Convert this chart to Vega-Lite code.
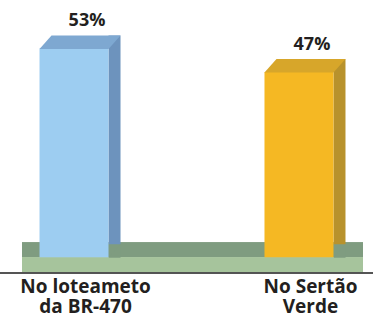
{
  "$schema": "https://vega.github.io/schema/vega-lite/v6.json",
  "width": 373,
  "height": 260,
  "autosize": {"type": "none"},
  "padding": {"left": 0, "right": 0, "top": 13, "bottom": 43},
  "background": "white",
  "config": {"view": {"stroke": null}},
  "data": {
    "values": [
      {"local": "No loteameto da BR-470", "pct": 53, "label": "53%"},
      {"local": "No Sertão Verde", "pct": 47, "label": "47%"}
    ]
  },
  "layer": [
    {
      "mark": {"type": "rect", "color": "#7f9c80", "xOffset": -52, "x2Offset": 64},
      "encoding": {
        "x": {"datum": "No loteameto da BR-470", "type": "nominal"},
        "x2": {"datum": "No Sertão Verde"},
        "y": {"datum": 3.8, "type": "quantitative", "scale": {"domain": [-4, 62], "nice": false, "zero": false}, "axis": null},
        "y2": {"datum": 0}
      }
    },
    {
      "mark": {"type": "rect", "color": "#a6c49c", "xOffset": -52, "x2Offset": 64},
      "encoding": {
        "x": {"datum": "No loteameto da BR-470", "type": "nominal"},
        "x2": {"datum": "No Sertão Verde"},
        "y": {"datum": 0, "type": "quantitative"},
        "y2": {"datum": -3.8}
      }
    },
    {
      "mark": {"type": "rule", "color": "#4a4a4a", "strokeWidth": 1.5},
      "encoding": {
        "y": {"datum": -4, "type": "quantitative"}
      }
    },
    {
      "mark": {"type": "bar", "width": 12, "xOffset": 40.5, "yOffset": -13},
      "encoding": {
        "x": {
          "field": "local", "type": "nominal", "sort": null,
          "scale": {"type": "point", "padding": 0.329, "domain": ["No loteameto da BR-470", "No Sertão Verde"]},
          "axis": {
            "title": null, "ticks": false, "domain": false,
            "labelAngle": 0, "labelAlign": "center", "labelBaseline": "top", "labelFont": "Open Sans", "labelFontWeight": "bold", "labelFontSize": 19,
            "labelColor": "#231f20", "labelLineHeight": 20, "labelOffset": 11, "labelPadding": 4,
            "labelExpr": "datum.value == 'No loteameto da BR-470' ? ['No loteameto', 'da BR-470'] : ['No Sertão', 'Verde']"
          }
        },
        "y": {"field": "pct", "type": "quantitative"},
        "color": {"field": "local", "type": "nominal", "sort": null, "scale": {"range": ["#6d93bd", "#b8922c"]}, "legend": null}
      }
    },
    {
      "mark": {"type": "bar", "width": 69},
      "encoding": {
        "x": {"field": "local", "type": "nominal", "sort": null},
        "y": {"field": "pct", "type": "quantitative"},
        "color": {"field": "local", "type": "nominal", "sort": null, "scale": {"range": ["#9dcdf1", "#f5b823"]}, "legend": null}
      }
    },
    {
      "mark": {"type": "point", "shape": "M-34.5,0.5L34.5,0.5L46.5,-13L-22.5,-13Z", "size": 4, "filled": true, "opacity": 1, "strokeWidth": 0},
      "encoding": {
        "x": {"field": "local", "type": "nominal", "sort": null},
        "y": {"field": "pct", "type": "quantitative"},
        "color": {"field": "local", "type": "nominal", "sort": null, "scale": {"range": ["#7ea8d1", "#d7a62a"]}, "legend": null}
      }
    },
    {
      "mark": {"type": "point", "shape": "M34.5,0.5L46.5,0.5L46.5,-13Z", "size": 4, "filled": true, "opacity": 1, "strokeWidth": 0, "color": "#7f9c80"},
      "encoding": {
        "x": {"field": "local", "type": "nominal", "sort": null},
        "y": {"datum": 0, "type": "quantitative"}
      }
    },
    {
      "mark": {"type": "text", "font": "Open Sans", "fontWeight": "bold", "fontSize": 18, "xOffset": 13, "dy": -22, "baseline": "alphabetic", "color": "#231f20"},
      "encoding": {
        "x": {"field": "local", "type": "nominal", "sort": null},
        "y": {"field": "pct", "type": "quantitative"},
        "text": {"field": "label"}
      }
    }
  ],
  "resolve": {"scale": {"color": "independent"}}
}
